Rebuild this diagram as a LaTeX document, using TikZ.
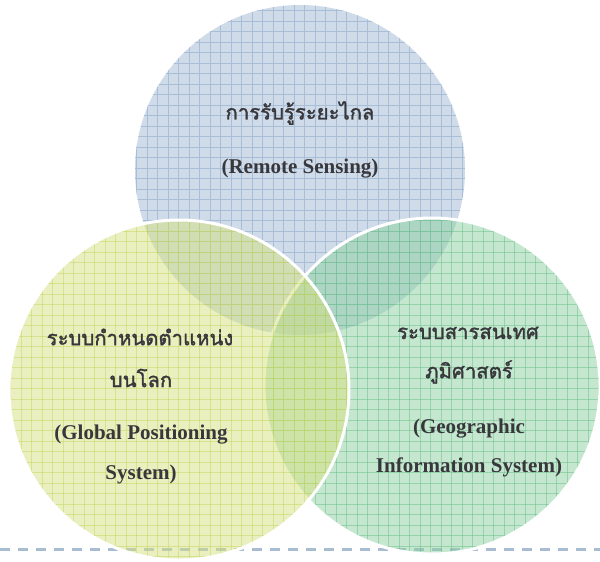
\documentclass[tikz,border=0pt]{standalone}
\usepackage{fontspec}
\setmainfont{Liberation Serif}
\newfontfamily\thaifont[Script=Thai, FakeBold=1.5]{Loma}
\definecolor{dashcol}{RGB}{168,188,210}
\definecolor{topfill}{RGB}{207,219,232}
\definecolor{topgrid}{RGB}{168,190,215}
\definecolor{leftfill}{RGB}{212,224,128}
\definecolor{leftgrid}{RGB}{196,212,90}
\definecolor{rightfill}{RGB}{140,208,162}
\definecolor{rightgrid}{RGB}{105,192,135}
\definecolor{txt}{RGB}{55,55,60}
\tikzset{
  en/.style={font=\fontsize{21}{24}\selectfont\bfseries, text=txt, inner sep=0pt},
  th/.style={font=\fontsize{20.3}{24}\thaifont, text=txt, inner sep=0pt},
  gridline/.style={line width=0.7pt},
  rim/.style={draw=white, line width=3pt}
}
\newcommand{\gridlines}[4]{%
  \foreach \gx in {#1,10.5,...,#2} \draw (\gx,#3) -- (\gx,#4);
  \foreach \gy in {#3,10.5,...,#4} \draw (#1,\gy) -- (#2,\gy);
}
\begin{document}
\begin{tikzpicture}[x=1pt,y=-1pt]
\useasboundingbox (0,0) rectangle (600,562);
\coordinate (dl) at (0,549);
\coordinate (dr) at (600,549);
\draw[dashcol, line width=3pt, dash pattern=on 10pt off 8pt] (dl) -- (dr);
% top circle
\fill[topfill] (300,170) circle (165);
\begin{scope}[topgrid, gridline]
  \clip (300,170) circle (165);
  \gridlines{0}{600}{0}{562}
\end{scope}
% right circle
\fill[rightfill, fill opacity=0.5] (432,386) circle (168);
\begin{scope}[rightgrid, gridline, draw opacity=0.5]
  \clip (432,386) circle (168);
  \gridlines{0}{600}{0}{562}
\end{scope}
\draw[rim] (432,386) circle (168);
% left circle
\fill[leftfill, fill opacity=0.5] (179,390) circle (170);
\begin{scope}[leftgrid, gridline, draw opacity=0.5]
  \clip (179,390) circle (170);
  \gridlines{0}{600}{0}{562}
\end{scope}
\draw[rim] (179,390) circle (170);
% texts
\node[th] (rs1) at (300,113) {การรับรู้ระยะไกล};
\node[en] (rs2) at (300,169) {(Remote Sensing)};
\node[th] (gp1) at (140,337) {ระบบกำหนดตำแหน่ง};
\node[th] (gp2) at (141,378) {บนโลก};
\node[en] (gp3) at (141,435) {(Global Positioning};
\node[en] (gp4) at (141,474) {System)};
\node[th] (gi1) at (468,333) {ระบบสารสนเทศ};
\node[th] (gi2) at (469,372) {ภูมิศาสตร์};
\node[en] (gi3) at (469,429) {(Geographic};
\node[en] (gi4) at (469,467) {Information System)};
\end{tikzpicture}
\end{document}
